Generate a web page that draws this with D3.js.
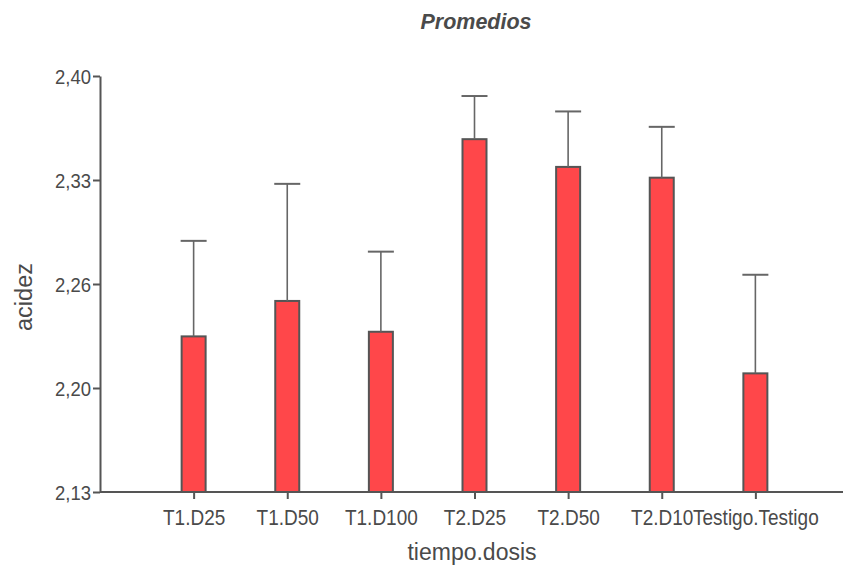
<!DOCTYPE html>
<html>
<head>
<meta charset="utf-8">
<script src="https://cdn.jsdelivr.net/npm/d3@7"></script>
<style>
  body { margin: 0; background: #fff; }
  text { font-family: "Liberation Sans", Arial, sans-serif; fill: #4a4a4a; }
</style>
</head>
<body>
<div id="chart"></div>
<script>
// data
const categories = ["T1.D25", "T1.D50", "T1.D100", "T2.D25", "T2.D50", "T2.D10", "Testigo.Testigo"];
const means = [2.231, 2.254, 2.234, 2.359, 2.341, 2.334, 2.207];
const upper = [2.293, 2.330, 2.286, 2.387, 2.377, 2.367, 2.271];
const yTicks = [2.13, 2.1975, 2.265, 2.3325, 2.40];
const yTickLabels = ["2,13", "2,20", "2,26", "2,33", "2,40"];

const W = 843, H = 568;
const margin = { top: 76, right: 0, bottom: 76, left: 100 };
const height = H - margin.top - margin.bottom;

const svg = d3.select("#chart").append("svg")
    .attr("width", W)
    .attr("height", H);

const x = d3.scalePoint()
    .domain(categories)
    .range([margin.left, 849])
    .padding(1);

const y = d3.scaleLinear()
    .domain([2.13, 2.40])
    .range([margin.top + height, margin.top]);

// title
svg.append("text")
    .attr("x", 476)
    .attr("y", 28.5)
    .attr("text-anchor", "middle")
    .style("font-size", "21.5px")
    .style("font-weight", "bold")
    .style("font-style", "italic")
    .text("Promedios");

// bars
const barW = 24;
svg.selectAll(".bar")
    .data(categories)
    .enter().append("rect")
    .attr("class", "bar")
    .attr("x", d => x(d) - barW / 2)
    .attr("y", (d, i) => y(means[i]))
    .attr("width", barW)
    .attr("height", (d, i) => y(2.13) - y(means[i]))
    .attr("fill", "#ff474a")
    .attr("stroke", "#555")
    .attr("stroke-width", 2);

// error bars (upper only)
svg.selectAll(".err")
    .data(categories)
    .enter().append("line")
    .attr("x1", d => x(d)).attr("x2", d => x(d))
    .attr("y1", (d, i) => y(means[i]))
    .attr("y2", (d, i) => y(upper[i]))
    .attr("stroke", "#666")
    .attr("stroke-width", 1.6);

svg.selectAll(".cap")
    .data(categories)
    .enter().append("line")
    .attr("x1", d => x(d) - 13).attr("x2", d => x(d) + 13)
    .attr("y1", (d, i) => y(upper[i]))
    .attr("y2", (d, i) => y(upper[i]))
    .attr("stroke", "#666")
    .attr("stroke-width", 2);

// y axis
const yAxis = svg.append("g")
    .attr("transform", `translate(${margin.left},0)`)
    .call(d3.axisLeft(y)
        .tickValues(yTicks)
        .tickFormat((d, i) => yTickLabels[i])
        .tickSize(7)
        .tickSizeOuter(0));

// x axis
const xAxis = svg.append("g")
    .attr("transform", `translate(0,${y(2.13)})`)
    .call(d3.axisBottom(x).tickSize(7).tickSizeOuter(0));

xAxis.select(".domain").attr("d", `M${margin.left},0H${W}`);

[yAxis, xAxis].forEach(g => {
    g.select(".domain").attr("stroke", "#555").attr("stroke-width", 2);
    g.selectAll(".tick line").attr("stroke", "#555").attr("stroke-width", 2);
    g.selectAll(".tick text")
        .attr("fill", "#4a4a4a")
        .attr("y", 0).attr("dy", 0).attr("x", 0)
        .style("font-family", "'Liberation Sans', Arial, sans-serif");
});
// text in the original looks stretched a bit vertically
yAxis.selectAll(".tick text")
    .style("font-size", "18.5px")
    .attr("transform", "translate(-9,7.5) scale(1,1.08)");
xAxis.selectAll(".tick text")
    .style("font-size", "19px")
    .attr("transform", "translate(0,32.5) scale(1,1.15)");

// axis titles
svg.append("text")
    .attr("x", 472)
    .attr("y", 560)
    .attr("text-anchor", "middle")
    .style("font-size", "23px")
    .text("tiempo.dosis");

svg.append("text")
    .attr("transform", "translate(32,297) rotate(-90)")
    .attr("text-anchor", "middle")
    .style("font-size", "23.5px")
    .text("acidez");
</script>
</body>
</html>
